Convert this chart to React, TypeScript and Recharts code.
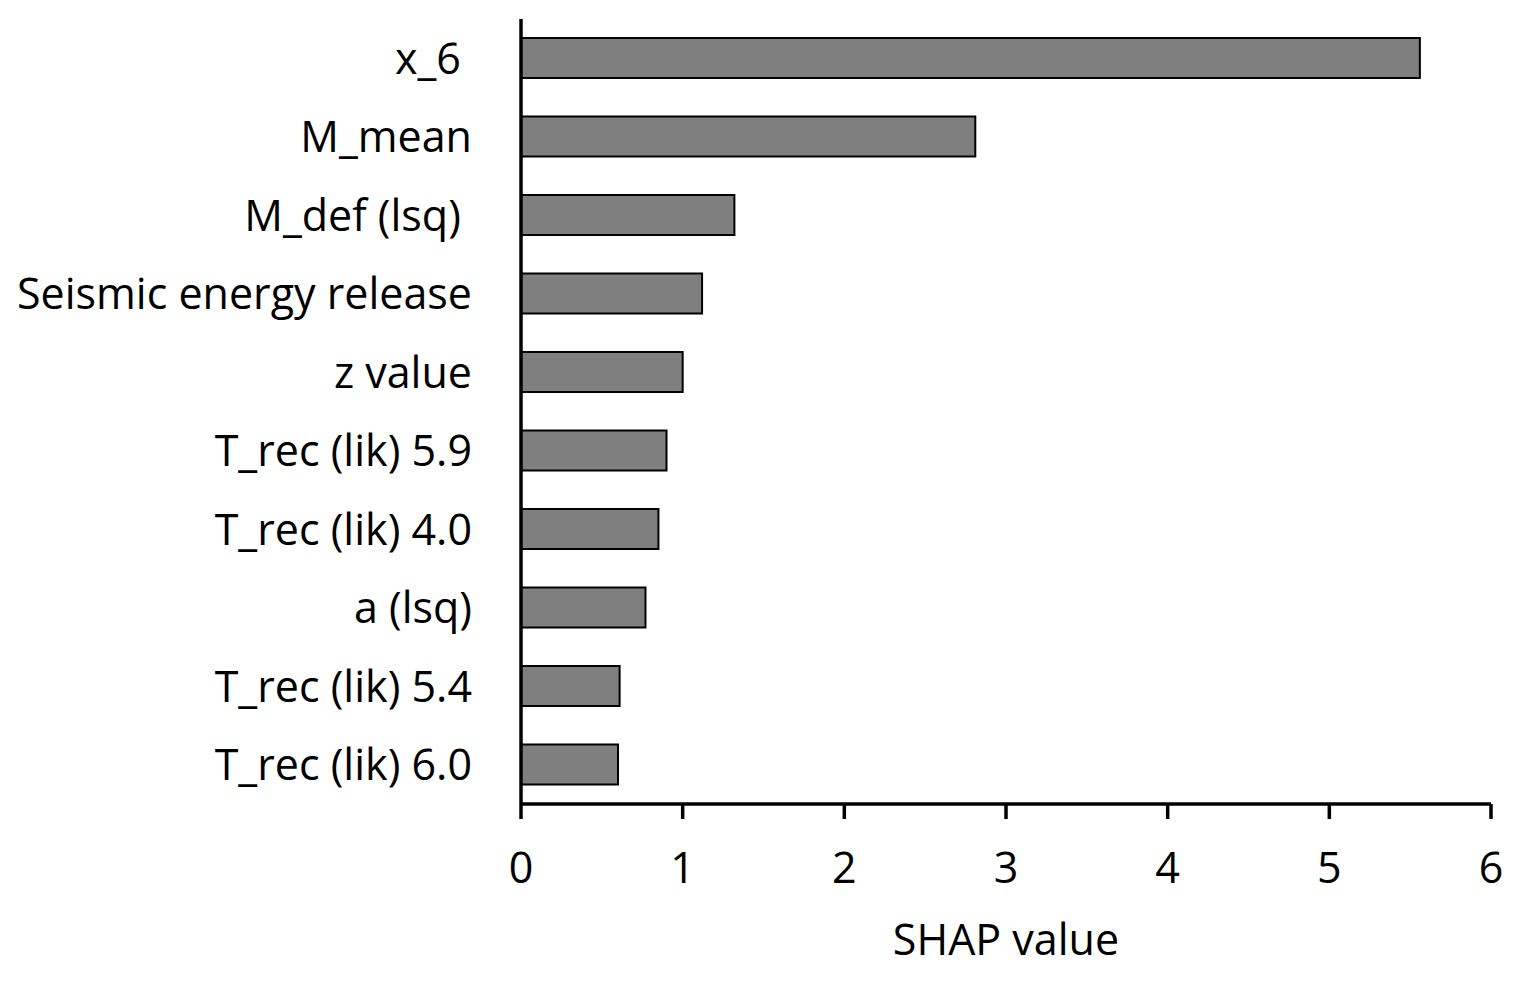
import { BarChart, Bar, XAxis, YAxis, Label } from "recharts";

const features = [
  "x_6\u00a0",
  "M_mean",
  "M_def (lsq)\u00a0",
  "Seismic energy release",
  "z value",
  "T_rec (lik) 5.9",
  "T_rec (lik) 4.0",
  "a (lsq)",
  "T_rec (lik) 5.4",
  "T_rec (lik) 6.0",
];
const shapValues = [5.56, 2.81, 1.32, 1.12, 1.0, 0.9, 0.85, 0.77, 0.61, 0.6];
const xTicks = [0, 1, 2, 3, 4, 5, 6];

const data = features.map((name, i) => ({ name, shap: shapValues[i] }));

const FONT = "'Open Sans', Lato, sans-serif";
const FONT_SIZE = 43;
const axisStyle = { stroke: "#000", strokeWidth: 3.5 };

export default function App() {
  return (
    <div style={{ position: "absolute", left: 0, top: 0, background: "#fff" }}>
      <BarChart
        width={1525}
        height={993}
        data={data}
        layout="vertical"
        margin={{ top: 19, right: 34, bottom: 0, left: 0 }}
      >
        <XAxis
          type="number"
          domain={[0, 6]}
          ticks={xTicks}
          height={189}
          axisLine={axisStyle}
          tickLine={axisStyle}
          tickSize={15}
          tickMargin={33}
          tick={{ fill: "#000", fontSize: FONT_SIZE, fontFamily: FONT }}
        >
          <Label
            value="SHAP value"
            position="insideBottom"
            offset={38}
            fill="#000"
            fontSize={FONT_SIZE}
            fontFamily={FONT}
          />
        </XAxis>
        <YAxis
          type="category"
          dataKey="name"
          width={521}
          axisLine={axisStyle}
          tickLine={false}
          tickSize={0}
          tickMargin={49}
          interval={0}
          tick={{ fill: "#000", fontSize: FONT_SIZE, fontFamily: FONT }}
        />
        <Bar
          dataKey="shap"
          fill="#7f7f7f"
          stroke="#000"
          strokeWidth={2}
          barSize={40}
          isAnimationActive={false}
        />
      </BarChart>
    </div>
  );
}
